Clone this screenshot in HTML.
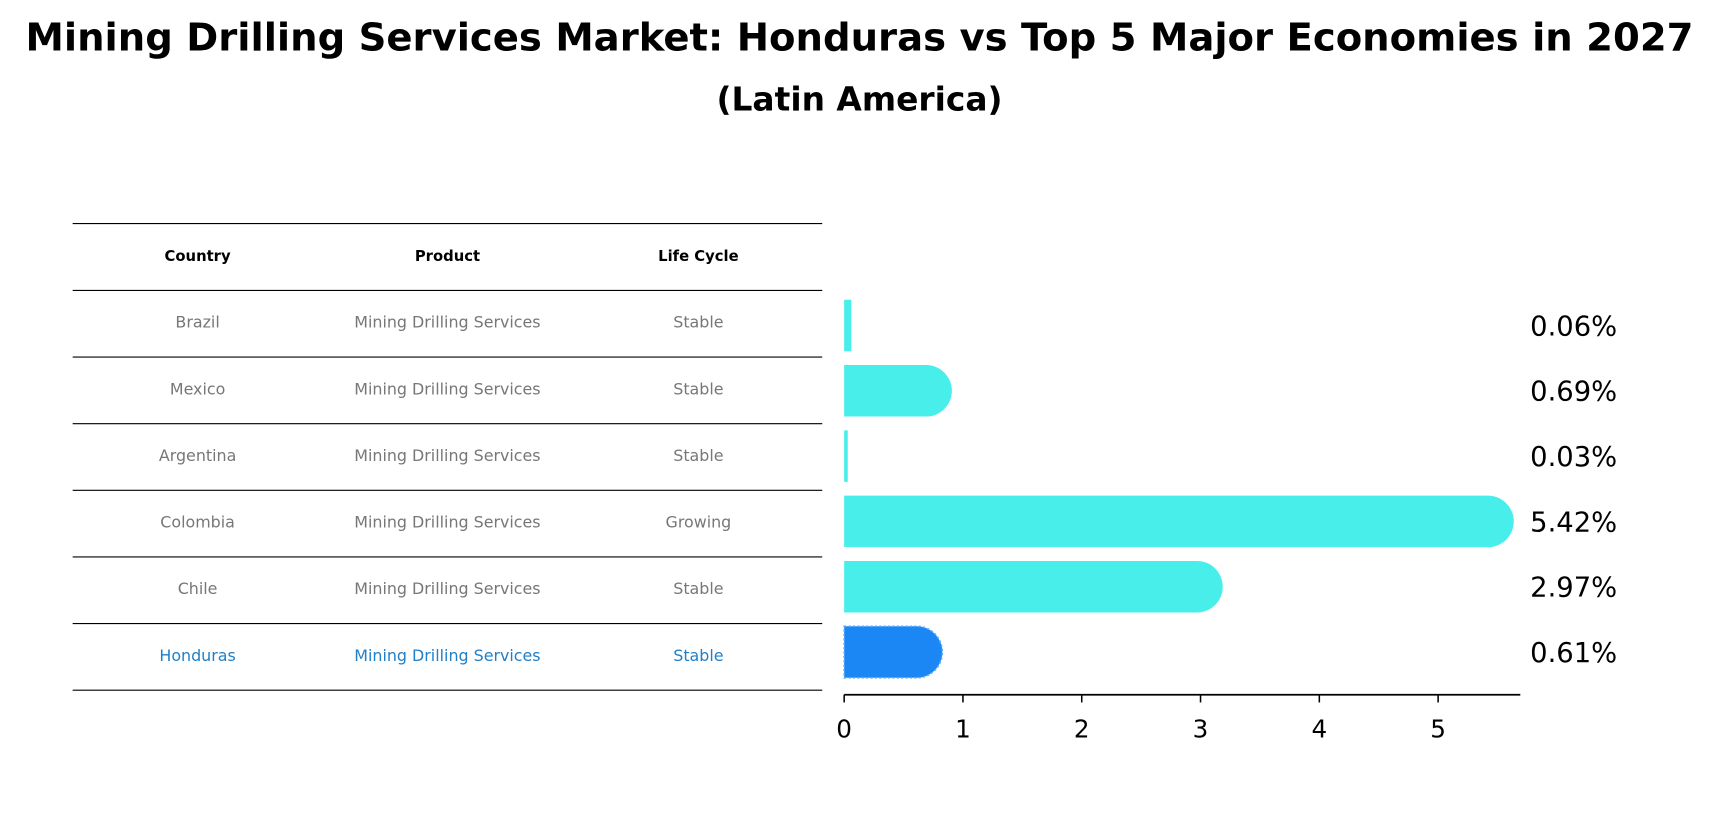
<!DOCTYPE html>
<html><head><meta charset="utf-8"><style>
html,body{margin:0;padding:0;background:#fff;}
svg{display:block;font-family:"DejaVu Sans","Liberation Sans",sans-serif;}
</style></head><body>
<svg id="chart" width="1719" height="823" viewBox="0 0 1568 751" xmlns="http://www.w3.org/2000/svg">
<text x="784" y="46" text-anchor="middle" font-size="35.2" font-weight="bold">Mining Drilling Services Market: Honduras vs Top 5 Major Economies in 2027</text>
<text x="784" y="101" text-anchor="middle" font-size="30" font-weight="bold">(Latin America)</text>
<g id="table"></g>
<g id="bars"></g>
<g id="axis"></g>
</svg>
<script>
const countries = ["Brazil","Mexico","Argentina","Colombia","Chile","Honduras"];
const products = ["Mining Drilling Services","Mining Drilling Services","Mining Drilling Services","Mining Drilling Services","Mining Drilling Services","Mining Drilling Services"];
const lifeCycles = ["Stable","Stable","Stable","Growing","Stable","Stable"];
const shares = [0.06,0.69,0.03,5.42,2.97,0.61];
const valueLabels = ["0.06%","0.69%","0.03%","5.42%","2.97%","0.61%"];
const xTicks = [0,1,2,3,4,5];
const headers = ["Country","Product","Life Cycle"];

const NS="http://www.w3.org/2000/svg";
function mk(tag,attrs,parent){const e=document.createElementNS(NS,tag);for(const k in attrs)e.setAttribute(k,attrs[k]);parent.appendChild(e);return e;}
const X0=770, UNIT=108.4;
const xs=v=>X0+v*UNIT;
const TROW0=295, TROWH=60.8;
const BROW0=297, BROWH=59.6;
const ty=i=>TROW0+i*TROWH;
const by=i=>BROW0+i*BROWH;

const table=document.getElementById('table');
const colX=[180,408,637];
const lineYs=[204,265];
for(let i=0;i<countries.length;i++) lineYs.push(265+(i+1)*TROWH);
lineYs.forEach((y,i)=>{const l=mk('line',{x1:66,x2:750,y1:y,y2:y,stroke:'#000','stroke-width':1},table);

});
headers.forEach((h,j)=>{const t=mk('text',{x:colX[j],y:238,'text-anchor':'middle','font-size':13.5,'font-weight':'bold'},table);t.textContent=h;

});
countries.forEach((c,i)=>{
  const cy=ty(i)+4;
  const col=i===countries.length-1?'#1f7fc8':'#777';
  [c,products[i],lifeCycles[i]].forEach((v,j)=>{
    const t=mk('text',{x:colX[j],y:cy,'text-anchor':'middle','font-size':14.5,fill:col},table);t.textContent=v;
    
    
  });
});

const bars=document.getElementById('bars');
const R=23.5;
shares.forEach((v,i)=>{
  const cy=by(i), w=v*UNIT;
  const hl=i===shares.length-1;
  const col=hl?'#1a87f5':'#48eee9';
  const ext=w>R?R:0;
  let d;
  if(ext>0){d=`M${X0},${cy-R} H${X0+w} A${R},${R} 0 0 1 ${X0+w},${cy+R} H${X0} Z`;}
  else{d=`M${X0},${cy-R} H${X0+w} V${cy+R} H${X0} Z`;}
  const p=mk('path',{d:d,fill:col},bars);
  if(hl){p.setAttribute('stroke','#5aa8ff');p.setAttribute('stroke-dasharray','2 2');p.setAttribute('stroke-width','1.5');}
  
  
  const t=mk('text',{x:1396,y:cy+9,'font-size':25},bars);t.textContent=valueLabels[i];
  
  
});

const axis=document.getElementById('axis');
const al=mk('line',{x1:X0,x2:1387,y1:634,y2:634,stroke:'#000','stroke-width':1.6},axis);


xTicks.forEach(v=>{
  const tl=mk('line',{x1:xs(v),x2:xs(v),y1:634,y2:641,stroke:'#000','stroke-width':1.4},axis);
  
  
  const t=mk('text',{x:xs(v),y:673,'text-anchor':'middle','font-size':22.5},axis);t.textContent=v;
  
  
});
</script>
</body></html>
